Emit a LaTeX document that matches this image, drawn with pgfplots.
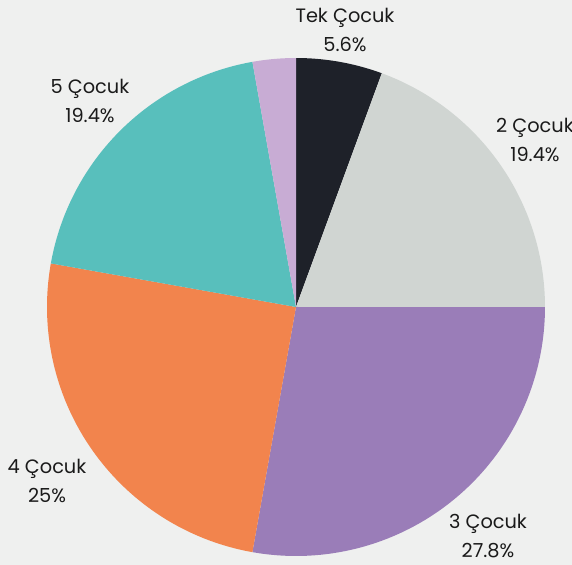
\documentclass[border=0pt]{standalone}
\usepackage{pgfplots}
\pgfplotsset{compat=1.18}
\usepackage{fontspec}
\setmainfont{Poppins}
\definecolor{bg}{HTML}{EFF0EF}
\definecolor{txt}{HTML}{1A1A1A}
\definecolor{c1}{HTML}{1E2129}
\definecolor{c2}{HTML}{D0D5D2}
\definecolor{c3}{HTML}{9A7DB8}
\definecolor{c4}{HTML}{F2844D}
\definecolor{c5}{HTML}{58BFBC}
\definecolor{c6}{HTML}{C8ACD4}
\begin{document}
\begin{tikzpicture}
\fill[bg] (0,0) rectangle (572bp,565bp);
\path[use as bounding box] (0,0) rectangle (572bp,565bp);
\clip (0,0) rectangle (572bp,565bp);
\begin{axis}[at={(0,0)}, anchor=south west, x=1bp, y=1bp,
  xmin=0, xmax=572, ymin=0, ymax=565, hide axis, clip=false]
\xdef\cum{90}
\foreach \p/\c in {5.6/c1,19.4/c2,27.8/c3,25/c4,19.4/c5,2.8/c6}{
  \pgfmathsetmacro\e{\cum-3.6*\p}
  \edef\temp{\noexpand\addplot[fill=\c, draw=none, domain=\e:\cum, samples=90]
    ({296+249*cos(x)},{258+249*sin(x)}) -- (axis cs:296,258) -- cycle;}
  \temp
  \xdef\cum{\e}
}
\begin{scope}[every node/.style={align=center, text=txt, font=\fontsize{19.4}{28.3}\selectfont}]
\node at (axis cs:345,535) {Tek Çocuk\\5.6\%};
\node at (axis cs:535,425) {2 Çocuk\\19.4\%};
\node at (axis cs:488,29) {3 Çocuk\\27.8\%};
\node at (axis cs:47,84) {4 Çocuk\\25\%};
\node at (axis cs:90,464) {5 Çocuk\\19.4\%};
\end{scope}
\end{axis}
\end{tikzpicture}
\end{document}
